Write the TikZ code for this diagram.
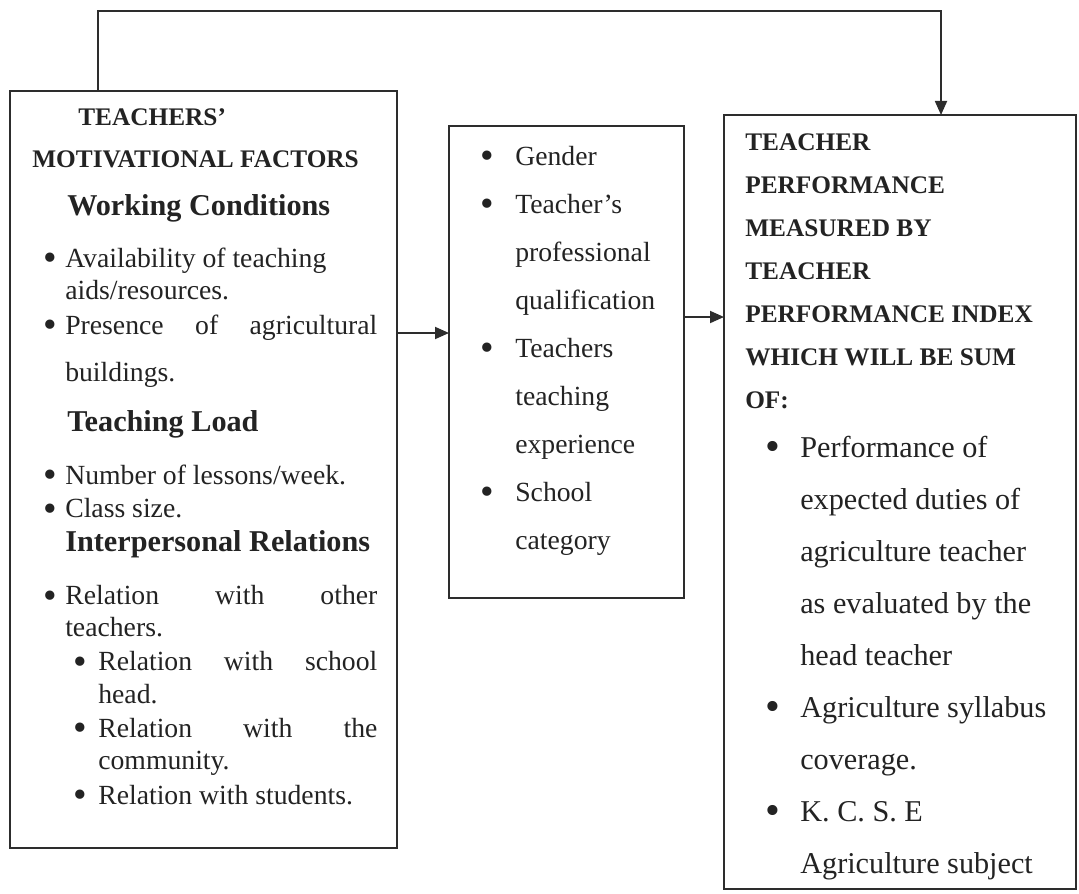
\documentclass[tikz,border=0pt]{standalone}
\usepackage{fontspec}
\setmainfont{Liberation Serif}
\usepackage{graphicx}
\usetikzlibrary{arrows.meta, positioning}
\definecolor{ink}{RGB}{35,35,35}
\definecolor{frame}{RGB}{45,45,45}
\newcommand{\blt}{\raisebox{-0.25ex}{\scalebox{1.4}{\textbullet}}}
\newcommand{\itm}[2]{\hspace*{#1}\makebox[#2][l]{\blt}}
\newcommand{\caphd}[1]{{\fontsize{18}{22}\selectfont\bfseries #1}}
\newcommand{\subhd}[1]{{\fontsize{21.5}{24}\selectfont\bfseries #1}}

\begin{document}
\begin{tikzpicture}[x=0.025cm, y=-0.025cm,
    box/.style={draw=frame, line width=1.4pt, anchor=north west, inner sep=0pt, outer sep=0pt},
    content/.style={anchor=north west, inner sep=0pt, align=left, text=ink},
    flow/.style={draw=frame, line width=1.3pt, -{Triangle[length=0.35cm, width=0.3cm]}}
]
    \useasboundingbox (0,0) rectangle (1079,894);

    % three boxes
    \node[box, minimum width=9.675cm, minimum height=18.925cm] (motiv) at (10,91) {};
    \node[box, minimum width=5.875cm, minimum height=11.8cm] (mod) at (449,126) {};
    \node[box, minimum width=8.8cm, minimum height=19.35cm] (perf) at (724,115) {};

    \node[content, font=\fontsize{19.7}{22.8}\selectfont,
          below right=0.44cm and 0.55cm of motiv.north west] (motivtext) {
        \hspace*{1.15cm}\caphd{TEACHERS’}\\[0.25cm]
        \caphd{MOTIVATIONAL FACTORS}\\[0.38cm]
        \hspace*{0.875cm}\subhd{Working Conditions}\\[0.5cm]
        \itm{0.275cm}{0.55cm}Availability of teaching\\
        \hspace*{0.825cm}aids/resources.\\[0.08cm]
        \itm{0.275cm}{0.55cm}\makebox[7.8cm][s]{Presence of agricultural}\\[0.38cm]
        \hspace*{0.825cm}buildings.\\[0.45cm]
        \hspace*{0.875cm}\subhd{Teaching Load}\\[0.52cm]
        \itm{0.275cm}{0.55cm}Number of lessons/week.\\[0.03cm]
        \itm{0.275cm}{0.55cm}Class size.\\[0.05cm]
        \hspace*{0.825cm}\subhd{Interpersonal Relations}\\[0.52cm]
        \itm{0.275cm}{0.55cm}\makebox[7.8cm][s]{Relation with other}\\
        \hspace*{0.825cm}teachers.\\[0.05cm]
        \itm{1.025cm}{0.625cm}\makebox[6.975cm][s]{Relation with school}\\
        \hspace*{1.65cm}head.\\[0.05cm]
        \itm{1.025cm}{0.625cm}\makebox[6.975cm][s]{Relation with the}\\
        \hspace*{1.65cm}community.\\[0.08cm]
        \itm{1.025cm}{0.625cm}Relation with students.
    };

    \node[content, font=\fontsize{19.7}{34.1}\selectfont,
          below right=0.5cm and 0.775cm of mod.north west] (modtext) {
        \itm{0pt}{0.875cm}Gender\\
        \itm{0pt}{0.875cm}Teacher’s\\
        \hspace*{0.875cm}professional\\
        \hspace*{0.875cm}qualification\\
        \itm{0pt}{0.875cm}Teachers\\
        \hspace*{0.875cm}teaching\\
        \hspace*{0.875cm}experience\\
        \itm{0pt}{0.875cm}School\\
        \hspace*{0.875cm}category
    };

    \node[content, font=\fontsize{21.5}{30.6}\selectfont,
          below right=0.45cm and 0.525cm of perf.north west] (perftext) {
        \caphd{TEACHER}\\
        \caphd{PERFORMANCE}\\
        \caphd{MEASURED BY}\\
        \caphd{TEACHER}\\
        \caphd{PERFORMANCE INDEX}\\
        \caphd{WHICH WILL BE SUM}\\
        \caphd{OF:}\\[0.15cm]
        \itm{0.5cm}{0.875cm}Performance of\\[0.225cm]
        \hspace*{1.375cm}expected duties of\\[0.225cm]
        \hspace*{1.375cm}agriculture teacher\\[0.225cm]
        \hspace*{1.375cm}as evaluated by the\\[0.225cm]
        \hspace*{1.375cm}head teacher\\[0.225cm]
        \itm{0.5cm}{0.875cm}Agriculture syllabus\\[0.225cm]
        \hspace*{1.375cm}coverage.\\[0.225cm]
        \itm{0.5cm}{0.875cm}K. C. S. E\\[0.225cm]
        \hspace*{1.375cm}Agriculture subject
    };

    % Arrows
    \coordinate (ret) at (941,11);
    \coordinate (a1) at (0,333);
    \coordinate (a2) at (0,317);
    \draw[flow] ([xshift=2.2cm]motiv.north west) |- (ret) -- (ret |- perf.north);
    \draw[flow] (motiv.east |- a1) -- (mod.west |- a1);
    \draw[flow] (mod.east |- a2) -- (perf.west |- a2);
\end{tikzpicture}
\end{document}
